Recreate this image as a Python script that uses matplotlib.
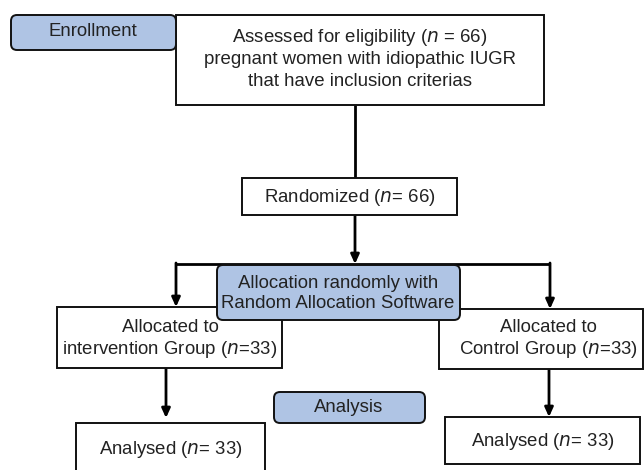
import matplotlib.pyplot as plt
from matplotlib.patches import Rectangle, FancyBboxPatch

# Box labels (CONSORT flow)
stage_labels = ['Enrollment', 'Allocation randomly with\nRandom Allocation Software', 'Analysis']
assessed_lines = ['Assessed for eligibility ($\\it{n}$ = 66)',
                  'pregnant women with idiopathic IUGR',
                  'that have inclusion criterias']
randomized_n = 66
group_names = ['intervention Group', 'Control Group']
group_n = [33, 33]
analysed_n = [33, 33]

blue = '#afc4e4'
fs = 13.4
font = 'Liberation Sans'

fig = plt.figure(figsize=(6.44, 4.70), dpi=100)
ax = fig.add_axes([0, 0, 1, 1])
ax.set_xlim(0, 644)
ax.set_ylim(470, 0)
ax.axis('off')


def box(x0, y0, x1, y1):
    ax.add_patch(Rectangle((x0, y0), x1 - x0, y1 - y0, facecolor='white',
                           edgecolor='#111111', lw=1.4, zorder=2))


def rbox(x0, y0, x1, y1):
    ax.add_patch(FancyBboxPatch((x0 + 6, y0 + 6), x1 - x0 - 12, y1 - y0 - 12,
                                boxstyle='round,pad=6', facecolor=blue,
                                edgecolor='#111111', lw=1.4, zorder=4))


def line(xs, ys):
    ax.plot(xs, ys, color='black', lw=2, zorder=1, solid_capstyle='butt')


def arrow(x, y0, y1):
    ax.annotate('', xy=(x, y1), xytext=(x, y0),
                arrowprops=dict(arrowstyle='-|>,head_length=0.55,head_width=0.25',
                                color='black', lw=2, shrinkA=0, shrinkB=0),
                zorder=1)


def txt(x, y, s):
    ax.text(x, y + 1, s, ha='center', va='center', fontsize=fs, family=font,
            color='#222222', zorder=5)


# connectors
line([355, 355], [105, 178])
arrow(355, 215, 264)
line([176, 550], [264, 264])
arrow(176, 263, 307)
arrow(550, 263, 309)
arrow(166, 368, 418)
arrow(549, 369, 417)

# enrollment
rbox(11, 15, 176, 50)
txt(93, 31, stage_labels[0])
box(176, 15, 544, 105)
for i, s in enumerate(assessed_lines):
    txt(360, 37 + 22 * i, s)

box(242, 178, 457, 215)
txt(350, 196, 'Randomized ($\\it{n}$= %d)' % randomized_n)

# allocation
box(57, 307, 282, 368)
txt(170, 327, 'Allocated to')
txt(170, 348, '%s ($\\it{n}$=%d)' % (group_names[0], group_n[0]))
box(439, 309, 643, 369)
txt(548, 327, 'Allocated to')
txt(548, 349, '%s ($\\it{n}$=%d)' % (group_names[1], group_n[1]))
rbox(217, 265, 460, 320)
for i, s in enumerate(stage_labels[1].split('\n')):
    txt(338, 282 + 20 * i, s)

# analysis
rbox(274, 392, 425, 423)
txt(349, 407, stage_labels[2])
box(76, 423, 265, 475)
txt(171, 448, 'Analysed ($\\it{n}$= %d)' % analysed_n[0])
box(445, 417, 640, 464)
txt(543, 441, 'Analysed ($\\it{n}$= %d)' % analysed_n[1])

plt.savefig('out.png', dpi=100)
